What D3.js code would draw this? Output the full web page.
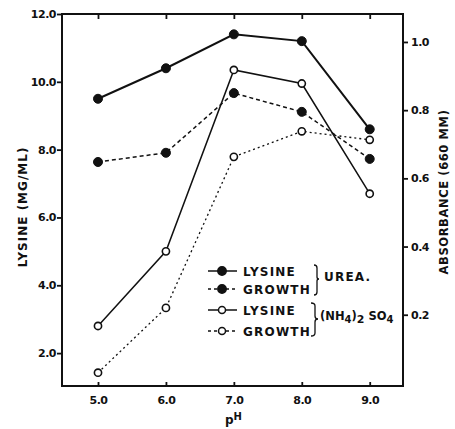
<!DOCTYPE html>
<html><head><meta charset="utf-8">
<script src="https://cdn.jsdelivr.net/npm/d3@7"></script>
<style>
body{margin:0;background:#fff;}
text{font-family:"DejaVu Sans",sans-serif;font-weight:bold;fill:#111;}
</style></head>
<body><svg id="c" width="455" height="429"></svg>
<script>
const pH = [5.0, 6.0, 7.0, 8.0, 9.0];
const lysineUrea = [9.5, 10.4, 11.4, 11.2, 8.6];
const lysineAmm = [2.8, 5.0, 10.35, 9.95, 6.7];
const growthUrea = [0.648, 0.675, 0.85, 0.795, 0.657];
const growthAmm = [0.03, 0.22, 0.663, 0.738, 0.713];
const xTicks = [5.0, 6.0, 7.0, 8.0, 9.0];
const leftTicks = [2.0, 4.0, 6.0, 8.0, 10.0, 12.0];
const rightTicks = [0.2, 0.4, 0.6, 0.8, 1.0];
const legendLabels = ["LYSINE", "GROWTH", "LYSINE", "GROWTH"];

const svg = d3.select("#c");
const L = 62, R = 403, T = 14, B = 386;
const x = d3.scaleLinear().domain([4.47, 9.49]).range([L, R]);
const yL = d3.scaleLinear().domain([1.03, 12]).range([B, T]);
const yR = d3.scaleLinear().domain([-0.009, 1.082]).range([B, T]);

// frame
svg.append("rect").attr("x", L).attr("y", T).attr("width", R - L).attr("height", B - T)
  .attr("fill", "none").attr("stroke", "#111").attr("stroke-width", 2);

// axes
const fmt = d3.format(".1f");
const gl = svg.append("g").attr("transform", `translate(${L},0)`)
  .call(d3.axisLeft(yL).tickValues(leftTicks).tickFormat(fmt).tickSize(5).tickPadding(1));
const gr = svg.append("g").attr("transform", `translate(${R},0)`)
  .call(d3.axisRight(yR).tickValues(rightTicks).tickFormat(fmt).tickSize(5).tickPadding(3));
const gb = svg.append("g").attr("transform", `translate(0,${B})`)
  .call(d3.axisBottom(x).tickValues(xTicks).tickFormat(fmt).tickSize(-4).tickPadding(10));
const gt = svg.append("g").attr("transform", `translate(0,${T})`)
  .call(d3.axisTop(x).tickValues(xTicks).tickFormat("").tickSize(-5));
[gl, gr, gb, gt].forEach(g => {
  g.select(".domain").remove();
  g.selectAll(".tick line").attr("stroke", "#111").attr("stroke-width", 1.8);
  g.selectAll(".tick text").attr("fill", "#111").style("font-size", "11px")
    .style("font-family", "DejaVu Sans").style("font-weight", "bold").style("letter-spacing", "-0.5px");
});

// series
function series(vals, yS, dash, filled, width) {
  const pts = vals.map((v, i) => [x(pH[i]), yS(v)]);
  svg.append("path").attr("d", d3.line()(pts)).attr("fill", "none")
    .attr("stroke", "#111").attr("stroke-width", width)
    .attr("stroke-dasharray", dash);
  svg.selectAll(null).data(pts).enter().append("circle")
    .attr("cx", d => d[0]).attr("cy", d => d[1])
    .attr("r", filled ? 4.5 : 3.6)
    .attr("fill", filled ? "#111" : "#fff")
    .attr("stroke", "#111").attr("stroke-width", filled ? 1 : 1.6);
}
series(growthAmm, yR, "2,3", false, 1.3);
series(growthUrea, yR, "4,3", true, 1.5);
series(lysineAmm, yL, null, false, 1.5);
series(lysineUrea, yL, null, true, 2);

// legend
const legY = [271, 289, 310, 331];
const legFilled = [true, true, false, false];
const legDash = [null, "3,3", null, "3,3"];
legY.forEach((yy, i) => {
  svg.append("line").attr("x1", 208).attr("x2", 237).attr("y1", yy).attr("y2", yy)
    .attr("stroke", "#111").attr("stroke-width", 1.5).attr("stroke-dasharray", legDash[i]);
  svg.append("circle").attr("cx", 222).attr("cy", yy).attr("r", legFilled[i] ? 4.2 : 3.5)
    .attr("fill", legFilled[i] ? "#111" : "#fff").attr("stroke", "#111").attr("stroke-width", 1.5);
  svg.append("text").attr("x", 243).attr("y", yy + 4.5).text(legendLabels[i])
    .style("font-size", "12px").style("letter-spacing", "1.2px");
});
// brackets
svg.append("path").attr("d", "M314,265 Q317,265 317,268 L317,277 Q317,279 319,279 Q317,279 317,281 L317,292 Q317,295 314,295")
  .attr("fill", "none").attr("stroke", "#111").attr("stroke-width", 1.3);
svg.append("path").attr("d", "M311,303 Q315,303 315,306 L315,316 Q315,319 318,319 Q315,319 315,322 L315,333 Q315,336 311,336")
  .attr("fill", "none").attr("stroke", "#111").attr("stroke-width", 1.3);
svg.append("text").attr("x", 324).attr("y", 281).text("UREA.")
  .style("font-size", "12px").style("letter-spacing", "1.2px");
const nt = svg.append("text").attr("x", 320).attr("y", 320).style("font-size", "11.5px");
nt.append("tspan").text("(NH");
nt.append("tspan").attr("dy", 3).style("font-size", "10px").text("4");
nt.append("tspan").attr("dy", -3).text(")");
nt.append("tspan").attr("dy", 3).style("font-size", "11px").text("2");
nt.append("tspan").attr("dy", -3).text(" SO");
nt.append("tspan").attr("dy", 3).style("font-size", "10px").text("4");

// axis titles
svg.append("text").attr("transform", "translate(27,207) rotate(-90)").attr("text-anchor", "middle")
  .style("font-size", "12px").style("letter-spacing", "1px").text("LYSINE (MG/ML)");
svg.append("text").attr("transform", "translate(448,192) rotate(-90)").attr("text-anchor", "middle")
  .style("font-size", "11.5px").style("letter-spacing", "0.6px").text("ABSORBANCE (660 MΜ)");
const ph = svg.append("text").attr("x", 225).attr("y", 424).style("font-size", "12px");
ph.append("tspan").text("p");
ph.append("tspan").attr("dy", -4).style("font-size", "10px").text("H");
</script></body></html>
